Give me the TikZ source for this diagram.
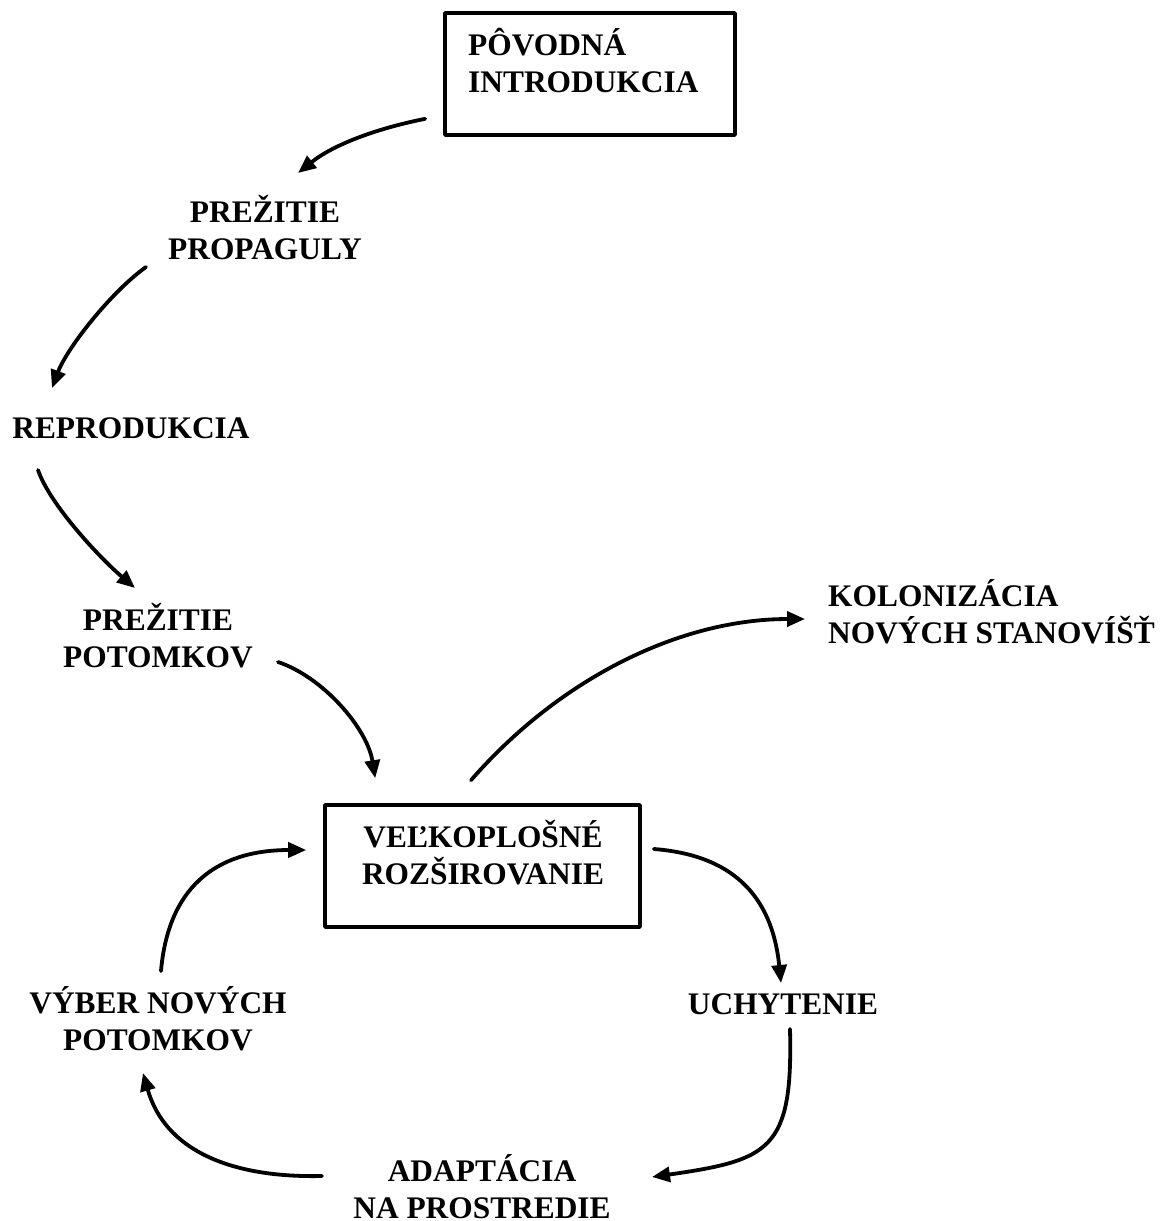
\documentclass[tikz,border=0pt]{standalone}
\usepackage{fontspec}
\setmainfont{Liberation Serif}
\usetikzlibrary{arrows.meta}
\begin{document}
\begin{tikzpicture}[line join=round,line cap=round,>={Triangle[length=18pt,width=15pt]},x=1pt,y=-1pt]
\tikzset{every node/.style={font=\fontsize{31.4}{37}\selectfont\bfseries,inner sep=0pt},
  box/.style={draw,line width=3.6pt,minimum width=#1,minimum height=122pt},
  arr/.style={->,line width=3.8pt}}
\useasboundingbox (0,0) rectangle (1165,1221);
\node[box=290pt] (introbox) at (590,74) {};
\node[align=left,anchor=base west] (intro) at (468,92) {PÔVODNÁ\\INTRODUKCIA};
\node[align=center,anchor=base] (propaguly) at (265,259) {PREŽITIE\\PROPAGULY};
\node[anchor=base] (repro) at (131,438) {REPRODUKCIA};
\node[align=center,anchor=base] (potomkov) at (158,667) {PREŽITIE\\POTOMKOV};
\node[box=315pt] (rozsir) at (482.5,866) {};
\node[align=center,anchor=base] (velko) at (483,884) {VEĽKOPLOŠNÉ\\ROZŠIROVANIE};
\node[align=left,anchor=base west] (kolon) at (828,643) {KOLONIZÁCIA\\NOVÝCH STANOVÍŠŤ};
\node[anchor=base] (uchyt) at (783,1014) {UCHYTENIE};
\node[align=center,anchor=base] (adapt) at (482,1218) {ADAPTÁCIA\\NA PROSTREDIE};
\node[align=center,anchor=base] (vyber) at (158,1050) {VÝBER NOVÝCH\\POTOMKOV};
\draw[arr] ([shift={(-18,-18)}]introbox.south west) .. controls +(-50,10) and +(35,-28) .. ([shift={(33,-86)}]propaguly.base);
\draw[arr] ([shift={(-119,8)}]propaguly.base) .. controls +(-35,25) and +(15,-40) .. ([shift={(-79,-50)}]repro.base);
\draw[arr] ([shift={(-93,32)}]repro.base) .. controls +(12,35) and +(-35,-30) .. ([shift={(-23,-79)}]potomkov.base);
\draw[arr] ([shift={(120,-5)}]potomkov.base) .. controls +(45,15) and +(-8,-50) .. ([shift={(52,-25)}]rozsir.north west);
\draw[arr] ([shift={(-11.5,-23)}]rozsir.north) .. controls +(89,-102) and +(-125,0) .. ([shift={(-23,-24)}]kolon.base west);
\draw[arr] ([shift={(12,-17)}]rozsir.east) .. controls +(78,6) and +(-9,-88) .. ([shift={(-2,-31)}]uchyt.base);
\draw[arr] ([shift={(7,15)}]uchyt.base) .. controls +(3,121) and +(118,-17) .. ([shift={(170,-41)}]adapt.base);
\draw[arr] ([shift={(-160,-42)}]adapt.base) .. controls +(-92,2) and +(22,77) .. ([shift={(-15,23)}]vyber.base);
\draw[arr] ([shift={(3,-79)}]vyber.base) .. controls +(7,-81) and +(-93,0) .. ([shift={(-17,-16)}]rozsir.west);
\end{tikzpicture}
\end{document}
